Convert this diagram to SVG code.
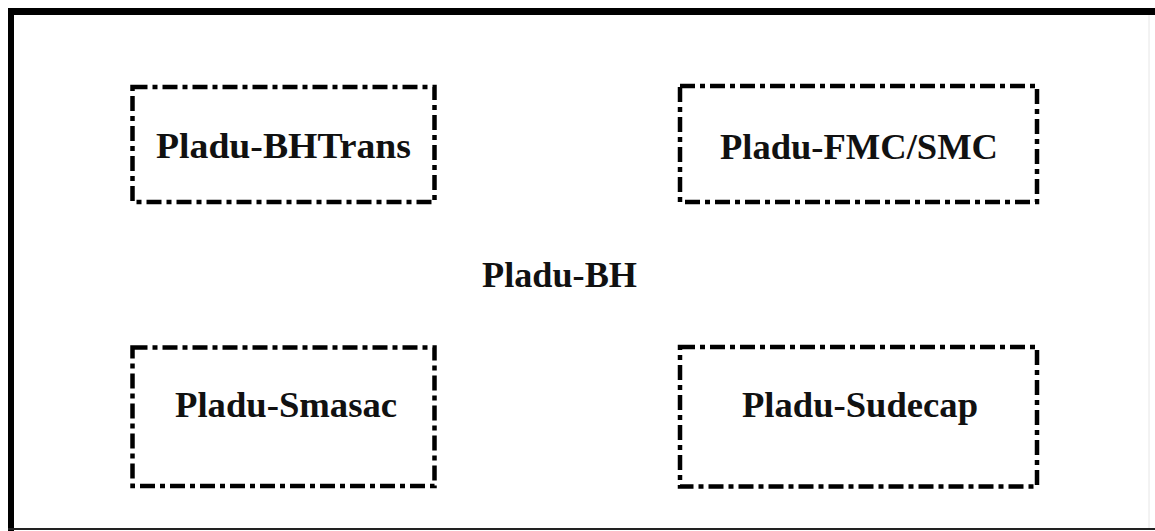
<svg xmlns="http://www.w3.org/2000/svg" width="1155" height="531" viewBox="0 0 1155 531">
<style>
.box{fill:none;stroke:#000;stroke-width:4.5;stroke-dasharray:15 5 5 5;}
.lbl{font-family:"Liberation Serif","Times New Roman",serif;font-weight:bold;font-size:36px;fill:#111;}
</style>
<rect width="1155" height="531" fill="#fff"/>
<g id="frame">
<line x1="8" y1="11.5" x2="1155" y2="11.5" stroke="#000" stroke-width="7"/>
<line x1="11" y1="8" x2="11" y2="531" stroke="#000" stroke-width="6"/>
<line x1="8" y1="529" x2="1155" y2="529" stroke="#222" stroke-width="2"/>
<line x1="1149" y1="15" x2="1149" y2="528" stroke="#e6e6e6" stroke-width="1"/>
<text class="lbl" x="559.5" y="287" text-anchor="middle" textLength="155" lengthAdjust="spacingAndGlyphs">Pladu-BH</text>
</g>
<g id="n-bhtrans">
<rect class="box" x="132.5" y="87" width="302" height="115"/>
<text class="lbl" x="283.5" y="158" text-anchor="middle" textLength="255" lengthAdjust="spacingAndGlyphs">Pladu-BHTrans</text>
</g>
<g id="n-fmcsmc">
<rect class="box" x="680" y="86" width="357" height="116"/>
<text class="lbl" x="859" y="159" text-anchor="middle" textLength="278" lengthAdjust="spacingAndGlyphs">Pladu-FMC/SMC</text>
</g>
<g id="n-smasac">
<rect class="box" x="132.5" y="347.5" width="302" height="138.5"/>
<text class="lbl" x="286" y="417" text-anchor="middle" textLength="222" lengthAdjust="spacingAndGlyphs">Pladu-Smasac</text>
</g>
<g id="n-sudecap">
<rect class="box" x="680" y="347" width="357" height="139.5"/>
<text class="lbl" x="860" y="417" text-anchor="middle" textLength="236" lengthAdjust="spacingAndGlyphs">Pladu-Sudecap</text>
</g>
<g id="connectors"></g>
</svg>
